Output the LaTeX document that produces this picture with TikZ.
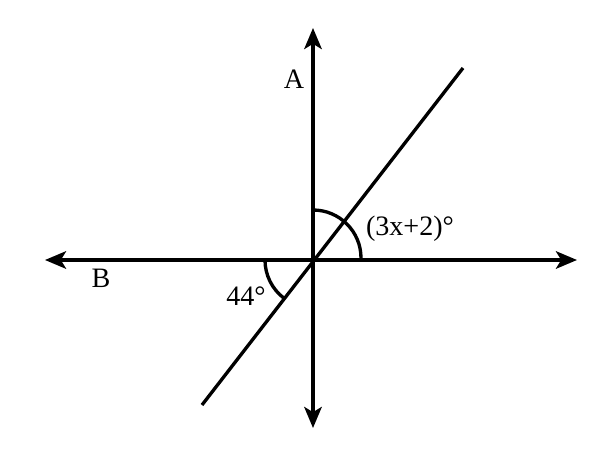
\documentclass[tikz,border=0pt]{standalone}
\usepackage{fontspec}
\setmainfont{Liberation Serif}
\usetikzlibrary{arrows.meta}
\begin{document}
\begin{tikzpicture}[x=0.02cm,y=-0.02cm,
  ln/.style={line width=1.9pt},
  ar/.style={ln,{Stealth[length=12pt,width=10pt,inset=3pt]}-{Stealth[length=12pt,width=10pt,inset=3pt]}},
  lbl/.style={font=\fontsize{16}{19}\selectfont,inner sep=0pt}]
\useasboundingbox (0,0) rectangle (600,450);
\coordinate (O) at (313,260);
\coordinate (T) at (313,28);
\coordinate (Bo) at (313,428);
\coordinate (L) at (45,260);
\coordinate (R) at (577,260);
\coordinate (D1) at (202,405);
\coordinate (D2) at (463,68);
\draw[ar] (T) -- (Bo);
\draw[ar] (L) -- (R);
\draw[ln] (D1) -- (D2);
\draw[ln] (313,210) arc[start angle=-90,end angle=0,radius=48];
\draw[ln] (265,260) arc[start angle=180,end angle=127.4,radius=48];
\node[lbl] (A) at (294,79) {A};
\node[lbl] (B) at (101,278) {B};
\node[lbl] (a44) at (246,296) {44°};
\node[lbl] (ax) at (410,229) {(3x+2)°};
\end{tikzpicture}
\end{document}
